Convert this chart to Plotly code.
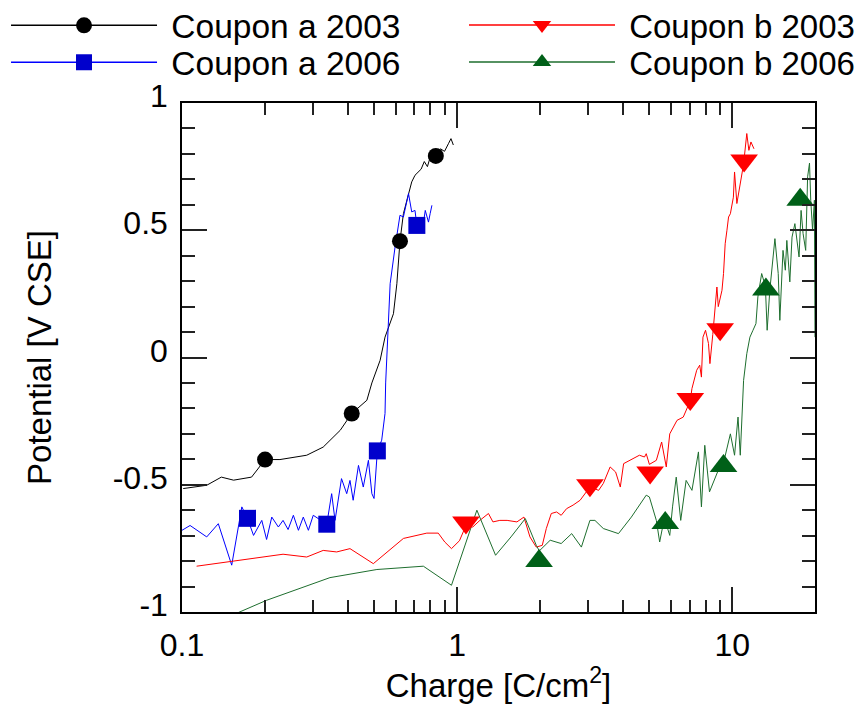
import plotly.graph_objects as go

# ---------------- data ----------------
a2003_x = [0.101, 0.123, 0.139, 0.154, 0.179, 0.2005, 0.227, 0.240, 0.284, 0.326, 0.345, 0.376,
           0.414, 0.470, 0.49, 0.525, 0.547, 0.587, 0.604, 0.620, 0.638, 0.684, 0.703, 0.74,
           0.76, 0.78, 0.80, 0.837, 0.87, 0.90, 0.93, 0.95, 0.969]
a2003_y = [-0.515, -0.502, -0.47, -0.482, -0.47, -0.401, -0.401, -0.397, -0.384, -0.352, -0.325, -0.286,
           -0.22, -0.168, -0.10, -0.011, 0.08, 0.172, 0.29, 0.457, 0.565, 0.69, 0.716, 0.74,
           0.77, 0.75, 0.79, 0.792, 0.82, 0.81, 0.84, 0.86, 0.835]
a2003_mx = [0.2004, 0.414, 0.620, 0.837]
a2003_my = [-0.401, -0.22, 0.457, 0.792]

a2006_x = [0.100, 0.107, 0.123, 0.1355, 0.1516, 0.165, 0.1728, 0.182, 0.195, 0.203, 0.212, 0.224,
           0.233, 0.243, 0.254, 0.265, 0.276, 0.288, 0.300, 0.336, 0.350, 0.360, 0.380, 0.397,
           0.408, 0.419, 0.438, 0.456, 0.476, 0.490, 0.499, 0.513, 0.532, 0.547, 0.550, 0.562,
           0.571, 0.595, 0.611, 0.620, 0.638, 0.657, 0.666, 0.684, 0.703, 0.714, 0.754, 0.766,
           0.787, 0.798, 0.810]
a2006_y = [-0.679, -0.66, -0.705, -0.653, -0.816, -0.587, -0.631, -0.699, -0.64, -0.715, -0.627, -0.666,
           -0.64, -0.676, -0.62, -0.679, -0.627, -0.679, -0.62, -0.655, -0.535, -0.64, -0.476, -0.535,
           -0.483, -0.561, -0.424, -0.509, -0.404, -0.535, -0.554, -0.367, -0.325, -0.22, -0.10, 0.107,
           0.29, 0.434, 0.526, 0.559, 0.552, 0.618, 0.644, 0.572, 0.578, 0.519, 0.526, 0.578,
           0.532, 0.565, 0.598]
a2006_mx = [0.173, 0.336, 0.513, 0.714]
a2006_my = [-0.632, -0.655, -0.367, 0.519]

b2003_x = [0.113, 0.163, 0.233, 0.284, 0.326, 0.365, 0.408, 0.496, 0.638, 0.776, 0.854, 0.902,
           0.954, 1.02, 1.077, 1.14, 1.21, 1.30, 1.35, 1.43, 1.52, 1.65, 1.75, 1.84,
           1.94, 2.04, 2.11, 2.2, 2.3, 2.39, 2.5, 2.64, 2.8, 3.04, 3.27, 3.4,
           3.6, 3.77, 3.92, 4.03, 4.24, 4.4, 4.6, 4.8, 4.87, 5.0, 5.3, 5.54,
           5.76, 5.93, 6.07, 6.3, 6.64, 7.04, 7.14, 7.43, 7.62, 7.73, 7.83, 8.0,
           8.2, 8.3, 8.5, 8.8, 8.9, 9.18, 9.3, 9.43, 9.57, 9.7, 9.85, 10.1,
           10.2, 10.4, 11.0, 11.3, 11.5, 11.7, 12.0]
b2003_y = [-0.82, -0.797, -0.773, -0.784, -0.758, -0.764, -0.751, -0.81, -0.711, -0.69, -0.69, -0.725,
           -0.751, -0.72, -0.66, -0.666, -0.64, -0.613, -0.646, -0.64, -0.64, -0.646, -0.627, -0.705,
           -0.745, -0.738, -0.672, -0.613, -0.607, -0.62, -0.594, -0.58, -0.561, -0.509, -0.522, -0.495,
           -0.43, -0.45, -0.509, -0.417, -0.404, -0.397, -0.384, -0.391, -0.378, -0.42, -0.404, -0.332,
           -0.43, -0.30, -0.28, -0.247, -0.234, -0.17, -0.122, -0.05, -0.03, -0.077, 0.08, 0.107,
           0.055, -0.024, 0.09, 0.277, 0.2, 0.264, 0.33, 0.447, 0.5, 0.552, 0.565, 0.63,
           0.729, 0.605, 0.76, 0.88, 0.814, 0.847, 0.82]
b2003_mx = [1.077, 3.04, 5.03, 7.04, 9.04, 11.05]
b2003_my = [-0.648, -0.502, -0.452, -0.163, 0.111, 0.774]

b2006_x = [0.158, 0.203, 0.345, 0.511, 0.754, 0.954, 1.18, 1.38, 1.57, 1.77, 1.94, 1.99,
           2.18, 2.39, 2.61, 2.83, 3.04, 3.17, 3.4, 3.86, 4.3, 4.87, 5.0, 5.3,
           5.45, 5.6, 5.7, 5.93, 6.07, 6.26, 6.5, 6.8, 7.14, 7.54, 7.73, 7.95,
           8.27, 8.6, 9.0, 9.3, 9.85, 10.2, 10.5, 10.7, 10.9, 11.0, 11.3, 11.6,
           11.9, 12.2, 12.4, 12.8, 13.2, 13.4, 13.7, 14.3, 14.7, 14.9, 15.3, 15.6,
           15.8, 16.2, 16.5, 16.9, 17.5, 17.8, 18.1, 18.5, 18.8, 19.1, 19.3, 19.6,
           19.9, 20.0]
b2006_y = [-1.005, -0.954, -0.865, -0.833, -0.82, -0.895, -0.6, -0.777, -0.705, -0.633, -0.738, -0.76,
           -0.718, -0.731, -0.692, -0.745, -0.64, -0.64, -0.672, -0.692, -0.627, -0.541, -0.548, -0.64,
           -0.725, -0.66, -0.64, -0.699, -0.587, -0.47, -0.64, -0.483, -0.522, -0.371, -0.587, -0.345,
           -0.528, -0.483, -0.43, -0.414, -0.30, -0.384, -0.234, -0.384, -0.168, -0.09, 0.015, 0.08,
           0.107, 0.133, 0.238, 0.33, 0.28, 0.107, 0.264, 0.467, 0.33, 0.146, 0.421, 0.343,
           0.46, 0.297, 0.473, 0.526, 0.395, 0.578, 0.487, 0.421, 0.71, 0.764, 0.618, 0.5,
           0.618, 0.08]
b2006_mx = [1.986, 5.71, 9.30, 13.26, 17.67]
b2006_my = [-0.80, -0.650, -0.426, 0.267, 0.620]

series_names = ["Coupon a 2003", "Coupon a 2006", "Coupon b 2003", "Coupon b 2006"]
x_tickvals = [0.1, 1, 10]
x_ticktext = ["0.1", "1", "10"]
y_tickvals = [-1, -0.5, 0, 0.5, 1]
y_ticktext = ["-1", "-0.5", "0", "0.5", "1"]

# ---------------- styles ----------------
FONT = "Liberation Sans, Arial, sans-serif"
W, H = 857, 696   # page body adds an 8px offset inside the 865x704 window
styles = [
    dict(line="#000000", marker="#000000", symbol="circle", size=16, legend="legend",
         lx=-0.278, ly=1.2082, fs=33.5),
    dict(line="#0000ff", marker="#0000cc", symbol="square", size=17, legend="legend2",
         lx=-0.278, ly=1.1356, fs=33.5),
    dict(line="#ff0000", marker="#ff0000", symbol="triangle-down", size=24, legend="legend3",
         lx=0.4455, ly=1.2082, fs=33),
    dict(line="#1e6e2e", marker="#006018", symbol="triangle-up", size=24, legend="legend4",
         lx=0.4455, ly=1.1356, fs=33),
]
lines = [(a2003_x, a2003_y), (a2006_x, a2006_y), (b2003_x, b2003_y), (b2006_x, b2006_y)]
marks = [(a2003_mx, a2003_my), (a2006_mx, a2006_my), (b2003_mx, b2003_my), (b2006_mx, b2006_my)]

fig = go.Figure()
for (x, y), st in zip(lines, styles):
    fig.add_trace(go.Scatter(x=x, y=y, mode="lines", line=dict(color=st["line"], width=1),
                             showlegend=False, hoverinfo="skip"))
for (x, y), st in zip(marks, styles):
    fig.add_trace(go.Scatter(x=x, y=y, mode="markers",
                             marker=dict(color=st["marker"], symbol=st["symbol"], size=st["size"],
                                         line=dict(width=0)),
                             showlegend=False))
# legend entries
for name, st in zip(series_names, styles):
    fig.add_trace(go.Scatter(x=[None], y=[None], mode="lines+markers", name=" " + name,
                             line=dict(color=st["line"], width=1.5),
                             marker=dict(color=st["marker"], symbol=st["symbol"], size=16),
                             legend=st["legend"]))

legend_common = dict(itemwidth=146, bgcolor="rgba(0,0,0,0)", borderwidth=0,
                     xref="paper", yref="paper", xanchor="left", yanchor="top",
                     tracegroupgap=0, itemclick=False)
legends = {st["legend"]: dict(x=st["lx"], y=st["ly"],
                              font=dict(family=FONT, size=st["fs"], color="black"), **legend_common)
           for st in styles}

fig.update_layout(
    width=W, height=H,
    margin=dict(l=174, r=50, t=95, b=92, autoexpand=False),
    paper_bgcolor="white", plot_bgcolor="white",
    font=dict(family=FONT, size=32, color="black"),
    **legends,
    xaxis=dict(type="log", range=[-1, 1.30103], tickvals=x_tickvals, ticktext=x_ticktext,
               ticks="inside", ticklen=25, tickwidth=1.5, tickcolor="#222",
               showline=True, linecolor="black", linewidth=1.5, mirror="ticks",
               showgrid=False, zeroline=False, ticklabelstandoff=4,
               tickfont=dict(family=FONT, size=32, color="black"),
               minor=dict(dtick="D1", ticks="inside", ticklen=12, tickwidth=1.5, tickcolor="#222", showgrid=False),
               title=dict(text="Charge [C/cm<sup>2</sup>]", font=dict(family=FONT, size=33, color="black"), standoff=11)),
    yaxis=dict(range=[-1, 1], tickvals=y_tickvals, ticktext=y_ticktext,
               ticks="inside", ticklen=25, tickwidth=1.5, tickcolor="#222",
               showline=True, linecolor="black", linewidth=1.5, mirror="ticks",
               showgrid=False, zeroline=False, ticklabelstandoff=6, ticklabelshift=-7,
               tickfont=dict(family=FONT, size=32, color="black"),
               minor=dict(dtick=0.1, ticks="inside", ticklen=13, tickwidth=1.5, tickcolor="#222", showgrid=False),
               title=dict(text="Potential [V CSE]", font=dict(family=FONT, size=33, color="black"), standoff=51)),
)
fig.write_html("out.html")
